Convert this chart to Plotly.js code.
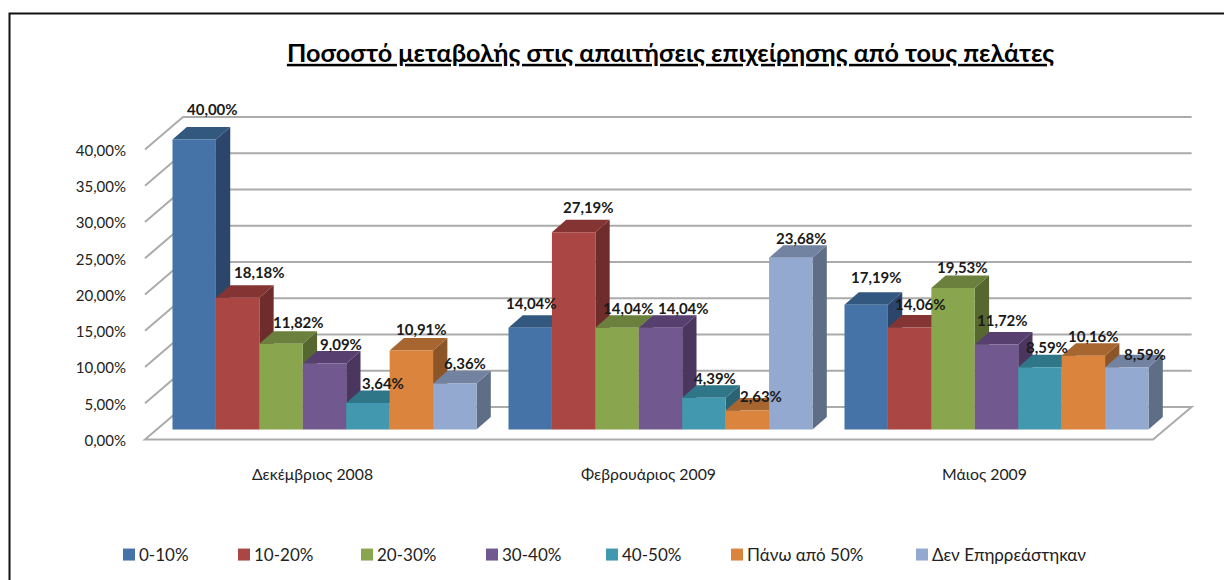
<!DOCTYPE html>
<html><head><meta charset="utf-8">
<script src="https://cdn.plot.ly/plotly-3.0.1.min.js"></script>
<style>html,body{margin:0;padding:0;background:#fff}#c{width:1224px;height:580px}
.legend .legendpoints{transform:translateX(10px)}</style>
</head><body><div id="c"></div>
<script>
const categories = ['Δεκέμβριος 2008','Φεβρουάριος 2009','Μάιος 2009'];
const s0_10 = [40.00,14.04,17.19];
const s10_20 = [18.18,27.19,14.06];
const s20_30 = [11.82,14.04,19.53];
const s30_40 = [9.09,14.04,11.72];
const s40_50 = [3.64,4.39,8.59];
const sOver50 = [10.91,2.63,10.16];
const sNone = [6.36,23.68,8.59];
const seriesNames = ['0-10%','10-20%','20-30%','30-40%','40-50%','Πάνω από 50%','Δεν Επηρρεάστηκαν'];
const seriesValues = [s0_10,s10_20,s20_30,s30_40,s40_50,sOver50,sNone];
const tickValues = [0,5,10,15,20,25,30,35,40];
const tickLabels = ['0,00%','5,00%','10,00%','15,00%','20,00%','25,00%','30,00%','35,00%','40,00%'];

// styling
const FONT = 'Lato, "Open Sans", sans-serif';
const front = ['#4572A7','#AA4643','#89A54E','#71588F','#4198AF','#DB843D','#93A9CF'];
const topFace = ['#33587F','#843433','#6A803C','#573F70','#2F7689','#A76530','#7183A0'];
const sideFace = ['#2C466B','#6E2C2B','#566730','#4A365F','#2A6373','#8C5528','#5F6E87'];
const GRID = '#ABABAB';
// pixel offsets of each value label from the top-centre of its bar [series][category]
const labelDx = [[18,1.5,10.5],[21.7,14.7,10.4],[17.6,11.9,9.2],[16.5,22.8,5.8],[15.4,11.1,6.8],[10.3,13.3,10.6],[10.5,10.9,18.2]];
const labelDy = [[30.2,24.4,27.6],[25.4,25.7,23.3],[22.1,20,20.9],[19.3,20,24.5],[19.8,19.4,19.9],[21.7,14.7,20.1],[20.7,19.5,12.9]];
const legendW = [70,78,80,75,80,140,165];

// plot frame in page pixels, and the scale it implies
const L=130,R=1210,T=100,B=450;
const pxPerCat=336, pxPerPct=7.25, firstCenter=324.5, zeroPx=429.5;
const xr=[(L-firstCenter)/pxPerCat,(R-firstCenter)/pxPerCat];
const yr=[(zeroPx-B)/pxPerPct,(zeroPx-T)/pxPerPct];
const bargap=32/336, groupW=1-bargap, barW=groupW/seriesValues.length;
const cx=p=>(p-firstCenter)/pxPerCat, dxCat=p=>p/pxPerCat, dyPct=p=>p/pxPerPct;
const depthX=dxCat(14.3), depthY=dyPct(12.5);

const shapes=[];
const poly=(pts)=>'M'+pts.map(p=>p[0]+','+p[1]).join('L');
// floor
const fl=cx(145), bl=cx(183), br=cx(1191.6), fr=cx(1153), fDrop=-dyPct(10), bRise=dyPct(22.5);
shapes.push({type:'path',layer:'below',xref:'x',yref:'y',path:poly([[fl,fDrop],[bl,bRise],[br,bRise],[fr,fDrop]])+'Z',fillcolor:'#fff',line:{color:GRID,width:2}});
// wall grid lines
tickValues.slice(1).forEach(v=>shapes.push({type:'path',layer:'below',xref:'x',yref:'y',path:poly([[fl,v+fDrop],[bl,v+bRise],[br,v+bRise]]),line:{color:GRID,width:2}}));
// bar tops and sides, left to right
categories.forEach((c,i)=>seriesValues.forEach((vals,j)=>{
  const x0=i-groupW/2+j*barW, x1=x0+barW, v=vals[i];
  shapes.push({type:'path',layer:'below',xref:'x',yref:'y',line:{width:0},fillcolor:sideFace[j],path:poly([[x1,0],[x1+depthX,depthY],[x1+depthX,v+depthY],[x1,v]])+'Z'});
  shapes.push({type:'path',layer:'below',xref:'x',yref:'y',line:{width:0},fillcolor:topFace[j],path:poly([[x0,v],[x0+depthX,v+depthY],[x1+depthX,v+depthY],[x1,v]])+'Z'});
}));
// outer frame: top and left edges only, the right and bottom run off the picture
const px=p=>(p-L)/(R-L), py=p=>(B-p)/(B-T);
shapes.push({type:'path',layer:'below',xref:'paper',yref:'paper',path:poly([[px(9.5),py(600)],[px(9.5),py(13.5)],[px(1240),py(13.5)]]),line:{color:'#111',width:2}});

const traces=seriesValues.map((vals,j)=>({type:'bar',name:seriesNames[j],x:categories,y:vals,marker:{color:front[j],line:{width:0}},legendwidth:legendW[j],hoverinfo:'x+y+name'}));

const annotations=[];
categories.forEach((c,i)=>seriesValues.forEach((vals,j)=>{
  annotations.push({x:i-groupW/2+(j+.5)*barW,y:vals[i],xref:'x',yref:'y',text:vals[i].toFixed(2).replace('.',',')+'%',showarrow:false,xanchor:'center',yanchor:'middle',xshift:labelDx[j][i],yshift:labelDy[j][i],font:{family:FONT,size:15,color:'#1a1a1a',weight:700}});
}));

const layout={
  width:1224,height:580,paper_bgcolor:'#fff',plot_bgcolor:'rgba(0,0,0,0)',
  margin:{l:L,r:1224-R,t:T,b:580-B,pad:0},
  barmode:'group',bargap:bargap,bargroupgap:0,
  title:{text:'<b><u>Ποσοστό μεταβολής στις απαιτήσεις επιχείρησης από τους πελάτες</u></b>',x:670.5/1224,xanchor:'center',xref:'container',y:1-53/580,yanchor:'middle',font:{family:FONT,size:25.2,color:'#000'}},
  xaxis:{type:'category',categoryorder:'array',categoryarray:categories,range:xr,showgrid:false,zeroline:false,showline:false,ticks:'',ticklabelstandoff:13,ticklabelshift:-12,tickfont:{family:FONT,size:15.8,color:'#222'}},
  yaxis:{range:yr,tickmode:'array',tickvals:tickValues,ticktext:tickLabels,showgrid:false,zeroline:false,showline:false,ticks:'',ticklabelstandoff:3,ticklabelshift:11,tickfont:{family:FONT,size:15,color:'#222'}},
  legend:{orientation:'h',x:(123-24)/1224,xref:'container',y:1-555/580,yref:'container',xanchor:'left',yanchor:'middle',traceorder:'normal',font:{family:FONT,size:17,color:'#222'},bgcolor:'rgba(0,0,0,0)'},
  shapes:shapes,annotations:annotations,showlegend:true
};
Plotly.newPlot('c',traces,layout,{displayModeBar:false,responsive:false});
</script></body></html>
